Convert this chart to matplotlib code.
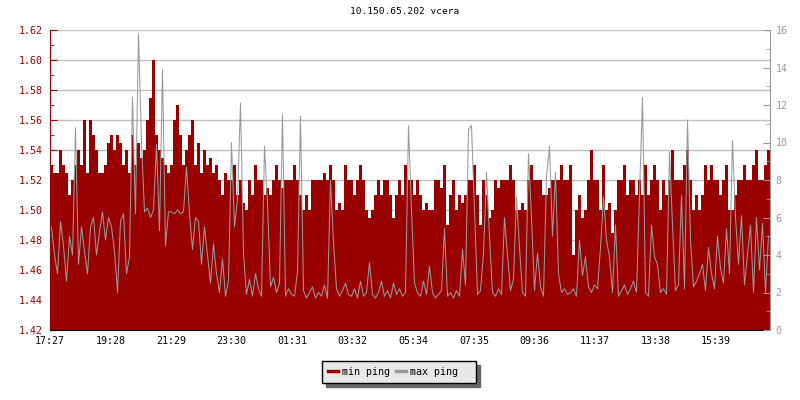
import matplotlib.pyplot as plt
import numpy as np
from matplotlib.lines import Line2D

plt.rcParams['font.family'] = 'DejaVu Sans Mono'
plt.rcParams['font.size'] = 7.2

RED = '#990000'
GRAY = '#999999'

title = '10.150.65.202 vcera'
tick_labels = ['17:27', '19:28', '21:29', '23:30', '01:31', '03:32',
               '05:34', '07:35', '09:36', '11:37', '13:38', '15:39']

# min ping (left axis), one value every 6 minutes, 20 per row (2 hours)
min_ping = [
    1.53, 1.525, 1.525, 1.54, 1.53, 1.525, 1.51, 1.52, 1.53, 1.54, 1.53, 1.56, 1.525, 1.56, 1.55, 1.54, 1.525, 1.525, 1.53, 1.545,
    1.55, 1.54, 1.55, 1.545, 1.53, 1.54, 1.525, 1.55, 1.53, 1.545, 1.535, 1.54, 1.56, 1.575, 1.60, 1.55, 1.54, 1.535, 1.53, 1.525,
    1.53, 1.56, 1.57, 1.55, 1.53, 1.54, 1.55, 1.56, 1.53, 1.545, 1.525, 1.54, 1.53, 1.535, 1.525, 1.53, 1.52, 1.51, 1.525, 1.52,
    1.52, 1.53, 1.51, 1.52, 1.505, 1.50, 1.52, 1.51, 1.53, 1.52, 1.52, 1.51, 1.515, 1.51, 1.52, 1.53, 1.52, 1.515, 1.52, 1.52,
    1.52, 1.53, 1.52, 1.51, 1.50, 1.51, 1.50, 1.52, 1.52, 1.52, 1.52, 1.525, 1.52, 1.53, 1.52, 1.50, 1.505, 1.50, 1.53, 1.52,
    1.52, 1.51, 1.52, 1.53, 1.52, 1.50, 1.495, 1.50, 1.51, 1.52, 1.51, 1.52, 1.52, 1.51, 1.495, 1.51, 1.52, 1.51, 1.53, 1.52,
    1.52, 1.51, 1.52, 1.51, 1.50, 1.505, 1.50, 1.50, 1.52, 1.52, 1.515, 1.53, 1.49, 1.51, 1.52, 1.50, 1.51, 1.505, 1.51, 1.52,
    1.52, 1.53, 1.51, 1.49, 1.52, 1.51, 1.495, 1.50, 1.52, 1.515, 1.52, 1.52, 1.52, 1.53, 1.52, 1.50, 1.50, 1.505, 1.50, 1.52,
    1.53, 1.52, 1.52, 1.52, 1.51, 1.51, 1.515, 1.52, 1.52, 1.52, 1.53, 1.52, 1.52, 1.53, 1.47, 1.50, 1.51, 1.495, 1.50, 1.52,
    1.54, 1.52, 1.52, 1.50, 1.53, 1.50, 1.505, 1.485, 1.50, 1.52, 1.52, 1.53, 1.51, 1.52, 1.52, 1.51, 1.52, 1.51, 1.53, 1.51,
    1.52, 1.53, 1.52, 1.50, 1.52, 1.51, 1.52, 1.54, 1.52, 1.52, 1.52, 1.53, 1.54, 1.52, 1.50, 1.51, 1.50, 1.51, 1.53, 1.52,
    1.53, 1.52, 1.52, 1.51, 1.52, 1.53, 1.50, 1.50, 1.51, 1.52, 1.52, 1.53, 1.52, 1.52, 1.53, 1.54, 1.52, 1.52, 1.53, 1.54,
]

# max ping (right axis), same time steps
max_ping = [
    5.5, 4.0, 3.0, 5.8, 4.5, 2.6, 5.0, 4.0, 10.8, 3.5, 5.5, 4.2, 3.0, 5.5, 6.0, 4.0, 5.2, 6.3, 4.8, 6.0,
    5.5, 4.2, 2.0, 5.8, 6.2, 3.0, 3.9, 12.4, 6.2, 15.8, 10.0, 6.3, 6.5, 6.0, 6.4, 9.9, 5.3, 13.9, 4.5, 6.3,
    6.3, 6.2, 6.4, 6.2, 6.3, 8.7, 6.2, 4.3, 6.0, 5.8, 3.5, 5.5, 4.0, 2.5, 4.6, 3.0, 2.0, 3.8, 1.8, 2.6,
    10.0, 5.5, 7.0, 12.1, 4.1, 1.9, 2.7, 1.8, 3.0, 2.2, 1.8, 9.8, 6.7, 2.3, 2.8, 2.0, 2.5, 11.5, 1.8, 2.2,
    1.9, 1.8, 3.1, 11.4, 2.1, 1.7, 2.0, 2.3, 1.7, 2.0, 1.8, 2.4, 1.7, 8.0, 4.7, 2.2, 1.8, 2.1, 2.5, 1.9,
    1.8, 2.2, 1.7, 2.6, 1.8, 2.0, 3.6, 1.9, 1.7, 2.0, 2.6, 1.8, 2.1, 1.7, 2.5, 1.9, 2.2, 1.8, 2.0, 10.9,
    6.4, 2.5, 2.0, 1.8, 2.6, 1.9, 3.4, 2.0, 1.7, 1.9, 2.1, 5.4, 1.8, 2.0, 1.7, 2.1, 1.8, 4.3, 2.4, 10.7,
    10.9, 6.4, 1.9, 2.1, 4.1, 8.4, 5.0, 2.0, 1.8, 2.2, 1.9, 6.0, 4.0, 2.1, 2.7, 7.1, 4.4, 2.0, 1.8, 9.4,
    6.0, 2.1, 4.1, 2.3, 1.8, 8.2, 9.8, 5.0, 8.4, 3.0, 2.0, 2.2, 1.9, 2.0, 2.2, 1.8, 4.8, 2.9, 3.9, 2.3,
    2.0, 2.4, 2.2, 4.4, 7.1, 4.8, 3.9, 2.0, 5.6, 1.8, 2.1, 2.4, 1.9, 2.2, 2.6, 2.0, 7.2, 12.4, 2.0, 1.8,
    5.6, 3.9, 3.5, 2.0, 2.2, 1.9, 9.5, 5.6, 2.1, 2.4, 7.2, 2.2, 11.2, 4.8, 2.3, 2.6, 3.0, 3.5, 2.1, 4.4,
    3.0, 2.2, 5.0, 3.3, 2.5, 5.4, 3.0, 10.1, 6.0, 3.5, 6.1, 2.4, 4.0, 5.6, 2.0, 6.0, 3.2, 5.7, 2.0, 5.0,
]

n = len(min_ping)
step = 1440 / n
t = np.arange(n) * step


def minutes(s):
    h, m = s.split(':')
    return int(h) * 60 + int(m)


tick_pos = [(minutes(s) - minutes(tick_labels[0])) % 1440 for s in tick_labels]

fig = plt.figure(figsize=(8, 4), dpi=100)
ax = fig.add_axes([0.0625, 0.175, 0.9, 0.75])

ax.fill_between(np.append(t, 1440), np.append(min_ping, min_ping[-1]), 1.42,
                step='post', color=RED, lw=0)
ax.set_xlim(0, 1440)
ax.set_ylim(1.42, 1.62)
ax.set_yticks(np.arange(1.42, 1.621, 0.02))
ax.set_yticks(np.arange(1.43, 1.62, 0.02), minor=True)
ax.set_yticklabels(['%.2f' % v for v in np.arange(1.42, 1.621, 0.02)])
ax.set_xticks(tick_pos)
ax.set_xticklabels(tick_labels)
ax.set_axisbelow(True)
ax.grid(axis='y', which='major', color='#c0c0c0', lw=1)

ax2 = ax.twinx()
ax2.plot(t + step / 2, max_ping, color=GRAY, lw=0.75)
ax2.set_ylim(0, 16)
ax2.set_yticks(range(0, 17, 2))
ax2.set_yticks(range(1, 16, 2), minor=True)

for a in (ax, ax2):
    a.spines['top'].set_visible(False)
ax.spines['right'].set_visible(False)
ax2.spines['left'].set_visible(False)
ax2.spines['bottom'].set_visible(False)
ax.spines['left'].set_color(RED)
ax.spines['bottom'].set_color('black')
ax2.spines['right'].set_color(GRAY)

ax.tick_params(axis='y', which='both', direction='in', colors=RED, pad=5)
ax.tick_params(axis='y', which='major', length=5)
ax.tick_params(axis='y', which='minor', length=3)
ax.tick_params(axis='x', direction='in', length=5, color='black', pad=4)
ax2.tick_params(axis='y', which='both', direction='in', colors=GRAY, pad=4)
ax2.tick_params(axis='y', which='major', length=5)
ax2.tick_params(axis='y', which='minor', length=3)

fig.text(0.506, 0.97, title, ha='center', va='center', fontsize=6.8)

handles = [Line2D([], [], color=RED, lw=2.5), Line2D([], [], color=GRAY, lw=2.5)]
leg = fig.legend(handles=handles, labels=['min ping', 'max ping  '], loc='center',
                 bbox_to_anchor=(0.4985, 0.071), ncol=2, fancybox=False,
                 edgecolor='black', facecolor='#e8e8e8', framealpha=1,
                 shadow={'ox': 3, 'oy': -3, 'color': '#666666', 'alpha': 1},
                 handlelength=1.0, handletextpad=0.4, columnspacing=0.6,
                 borderpad=0.6, borderaxespad=0)
leg.get_frame().set_linewidth(1.0)

fig.savefig('out.png', dpi=100)
